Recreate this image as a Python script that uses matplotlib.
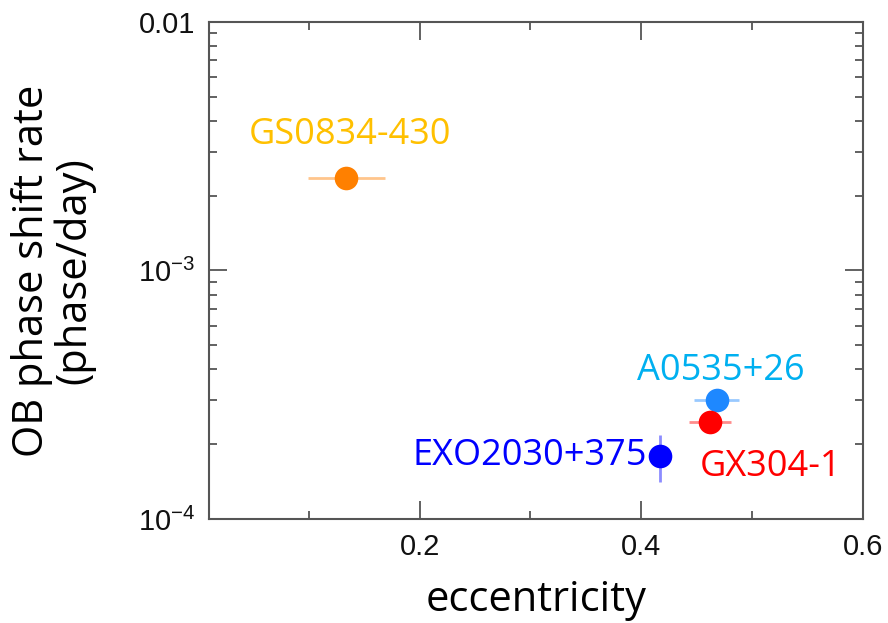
import numpy as np
import matplotlib
matplotlib.use("Agg")
import matplotlib.pyplot as plt
from matplotlib.ticker import FixedLocator, FixedFormatter, MultipleLocator

# source names and values
names = ['GS0834-430', 'A0535+26', 'GX304-1', 'EXO2030+375']
ecc = [0.134, 0.468, 0.462, 0.417]
ecc_err = [0.035, 0.02, 0.019, 0.0]
rate = [2.36e-3, 3.0e-4, 2.45e-4, 1.79e-4]
rate_lo = [0.0, 0.0, 0.0, 0.38e-4]
rate_hi = [0.0, 0.0, 0.0, 0.38e-4]
marker_colors = ['#FF8000', '#1E88FF', '#FF0000', '#0000FF']
label_colors = ['#FFC000', '#00B0F0', '#FF0000', '#0000FF']

ytick_vals = [1e-4, 1e-3, 1e-2]
ytick_labels = ['$10^{-4}$', '$10^{-3}$', '0.01']
xtick_vals = [0.2, 0.4, 0.6]

plt.rcParams['font.family'] = ['Liberation Sans', 'DejaVu Sans']
plt.rcParams['mathtext.default'] = 'regular'

fig = plt.figure(figsize=(8.88, 6.23), dpi=100)
ax = fig.add_axes([0.2354, 0.167, 0.7364, 0.7977])

for i in range(len(names)):
    ax.errorbar(ecc[i], rate[i], xerr=ecc_err[i] or None,
                yerr=[[rate_lo[i]], [rate_hi[i]]] if rate_lo[i] else None,
                fmt='o', ms=17, color=marker_colors[i], mec='none',
                ecolor=marker_colors[i], elinewidth=2, capsize=0, zorder=3)
    # error bars are drawn lighter in the picture
    ax.collections[-1].set_alpha(0.45)

ax.set_yscale('log')
ax.set_xlim(0.01, 0.6)
ax.set_ylim(1e-4, 1e-2)

ax.xaxis.set_major_locator(FixedLocator(xtick_vals))
ax.xaxis.set_minor_locator(MultipleLocator(0.1))
ax.yaxis.set_major_locator(FixedLocator(ytick_vals))
ax.yaxis.set_major_formatter(FixedFormatter(ytick_labels))
ax.yaxis.set_minor_formatter(FixedFormatter([]))
ax.tick_params(which='both', direction='in', top=True, right=True,
               color='#555555', labelsize=21, labelcolor='#111111')
ax.tick_params(which='major', length=13, width=1.3, pad=10)
ax.tick_params(which='minor', length=6, width=1.3)

for s in ax.spines.values():
    s.set_color('#555555')
    s.set_linewidth(1.5)

label_font = ['Open Sans', 'DejaVu Sans']
ax.text(0.137, 3.5e-3, 'GS0834-430', color=label_colors[0], fontsize=26,
        family=label_font, ha='center', va='center')
ax.text(0.472, 3.95e-4, 'A0535+26', color=label_colors[1], fontsize=26,
        family=label_font, ha='center', va='center')
ax.text(0.517, 1.62e-4, 'GX304-1', color=label_colors[2], fontsize=26,
        family=label_font, ha='center', va='center')
ax.text(0.405, 1.8e-4, 'EXO2030+375', color=label_colors[3], fontsize=26,
        family=label_font, ha='right', va='center')

ax.set_xlabel('eccentricity', fontsize=30, family=label_font, labelpad=13)
ax.set_ylabel('OB phase shift rate\n(phase/day)', fontsize=30, family=label_font,
              linespacing=1.0)
ax.yaxis.label.set_va('center')
ax.yaxis.set_label_coords(-0.238, 0.5)

plt.savefig('out.png', dpi=100)
